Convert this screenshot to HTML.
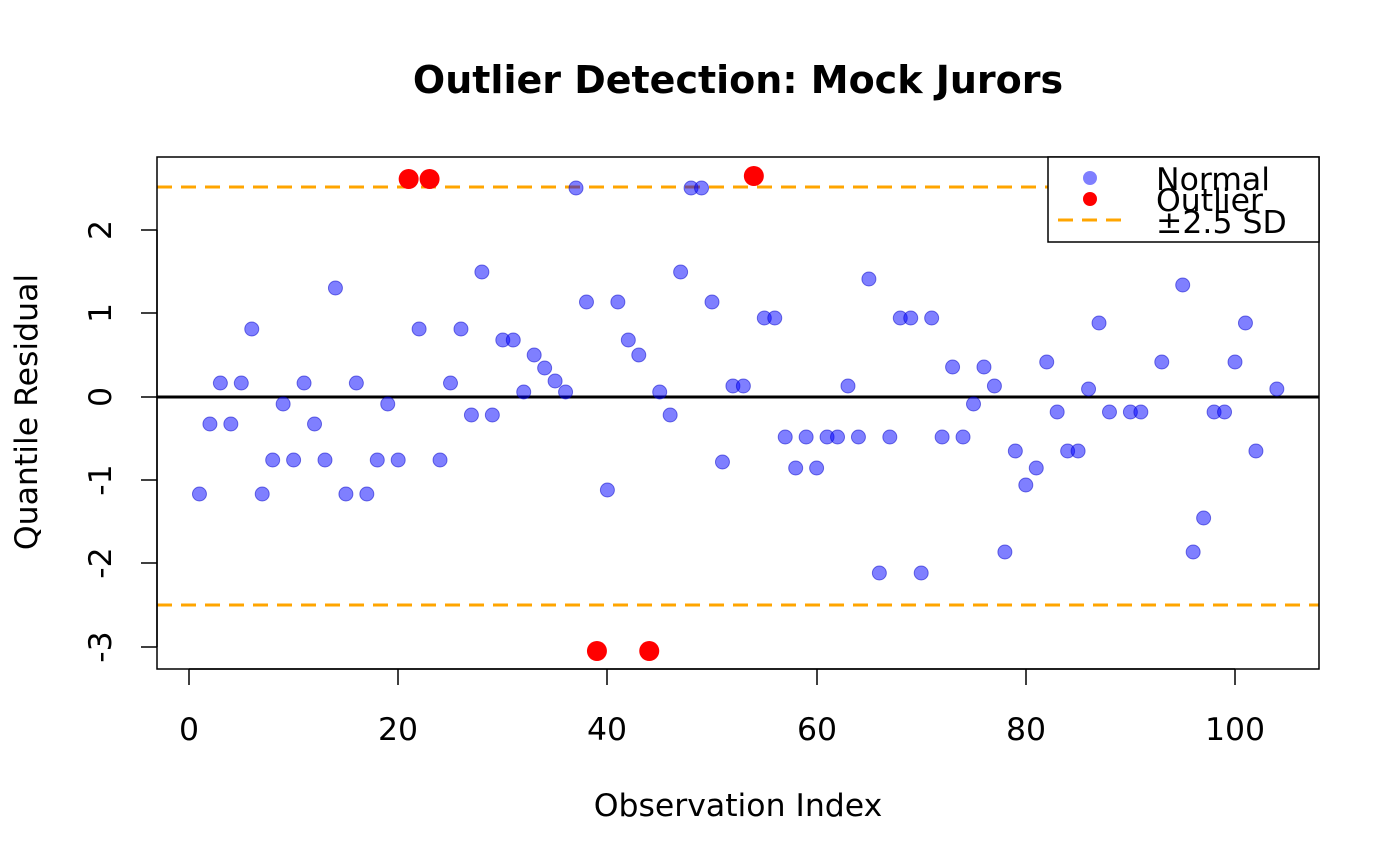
<!DOCTYPE html>
<html><head><meta charset="utf-8"><style>body{margin:0;background:#fff}svg{display:block}</style></head>
<body>
<svg width="1400" height="866" xmlns="http://www.w3.org/2000/svg" font-family="'DejaVu Sans','Liberation Sans',sans-serif">
<rect width="1400" height="866" fill="#fff"/>
<text x="738" y="93" text-anchor="middle" font-size="38" font-weight="bold">Outlier Detection: Mock Jurors</text>
<line x1="157" y1="187" x2="1319" y2="187" stroke="#FFA500" stroke-width="3" stroke-dasharray="15,9"/>
<line x1="157" y1="605" x2="1319" y2="605" stroke="#FFA500" stroke-width="3" stroke-dasharray="15,9"/>
<line x1="157" y1="397" x2="1319" y2="397" stroke="#000" stroke-width="3"/>
<g id="pts" fill="rgba(0,0,255,0.5)" stroke="rgba(0,0,200,0.5)" stroke-width="1"></g>
<g id="red" fill="#f00"></g>
<rect x="157" y="157" width="1162" height="512" fill="none" stroke="#000" stroke-width="1.5"/>
<g stroke="#000" stroke-width="1.5">
<line x1="189" y1="669" x2="1235" y2="669"/>
<line x1="189" y1="669" x2="189" y2="685"/><line x1="398" y1="669" x2="398" y2="685"/><line x1="607" y1="669" x2="607" y2="685"/><line x1="817" y1="669" x2="817" y2="685"/><line x1="1026" y1="669" x2="1026" y2="685"/><line x1="1235" y1="669" x2="1235" y2="685"/>
<line x1="157" y1="230" x2="157" y2="647"/>
<line x1="141" y1="230" x2="157" y2="230"/><line x1="141" y1="313" x2="157" y2="313"/><line x1="141" y1="397" x2="157" y2="397"/><line x1="141" y1="480" x2="157" y2="480"/><line x1="141" y1="563" x2="157" y2="563"/><line x1="141" y1="647" x2="157" y2="647"/>
</g>
<g font-size="31.5" text-anchor="middle">
<text x="189" y="740">0</text><text x="398" y="740">20</text><text x="607" y="740">40</text><text x="817" y="740">60</text><text x="1026" y="740">80</text><text x="1235" y="740">100</text>
<text x="738" y="816">Observation Index</text>
</g>
<g font-size="31.5" text-anchor="middle">
<text transform="translate(111,230) rotate(-90)">2</text>
<text transform="translate(111,313) rotate(-90)">1</text>
<text transform="translate(111,397) rotate(-90)">0</text>
<text transform="translate(111,480) rotate(-90)">-1</text>
<text transform="translate(111,563) rotate(-90)">-2</text>
<text transform="translate(111,647) rotate(-90)">-3</text>
<text transform="translate(37,412) rotate(-90)">Quantile Residual</text>
</g>
<rect x="1048" y="157" width="271" height="85" fill="#fff" stroke="#000" stroke-width="1.5"/>
<circle cx="1090" cy="178" r="7" fill="rgba(0,0,255,0.5)"/>
<circle cx="1090" cy="199" r="7" fill="#f00"/>
<line x1="1058" y1="220" x2="1122" y2="220" stroke="#FFA500" stroke-width="3" stroke-dasharray="15,9"/>
<g font-size="31.5"><text x="1156" y="190">Normal</text><text x="1156" y="211">Outlier</text><text x="1156" y="233">±2.5 SD</text></g>
<script>
var d={1:494,2:424,3:383,4:424,5:383,6:329,7:494,8:460,9:404,10:460,11:383,12:424,13:460,14:288,15:494,16:383,17:494,18:460,19:404,20:460,22:329,24:460,25:383,26:329,27:415,28:272,29:415,30:340,31:340,32:392,33:355,34:368,35:381,36:392,37:188,38:302,40:490,41:302,42:340,43:355,45:392,46:415,47:272,48:188,49:188,50:302,51:462,52:386,53:386,55:318,56:318,57:437,58:468,59:437,60:468,61:437,62:437,63:386,64:437,65:279,66:573,67:437,68:318,69:318,70:573,71:318,72:437,73:367,74:437,75:404,76:367,77:386,78:552,79:451,80:485,81:468,82:362,83:412,84:451,85:451,86:389,87:323,88:412,90:412,91:412,93:362,95:285,96:552,97:518,98:412,99:412,100:362,101:323,102:451,104:389};
var r={21:179,23:179,39:651,44:651,54:176};
var ns="http://www.w3.org/2000/svg";
function add(g,o,rad){for(var k in o){var c=document.createElementNS(ns,"circle");c.setAttribute("cx",189+10.46*k);c.setAttribute("cy",o[k]);c.setAttribute("r",rad);g.appendChild(c);}}
add(document.getElementById("pts"),d,7);
add(document.getElementById("red"),r,10);
</script>
</svg>
</body></html>
